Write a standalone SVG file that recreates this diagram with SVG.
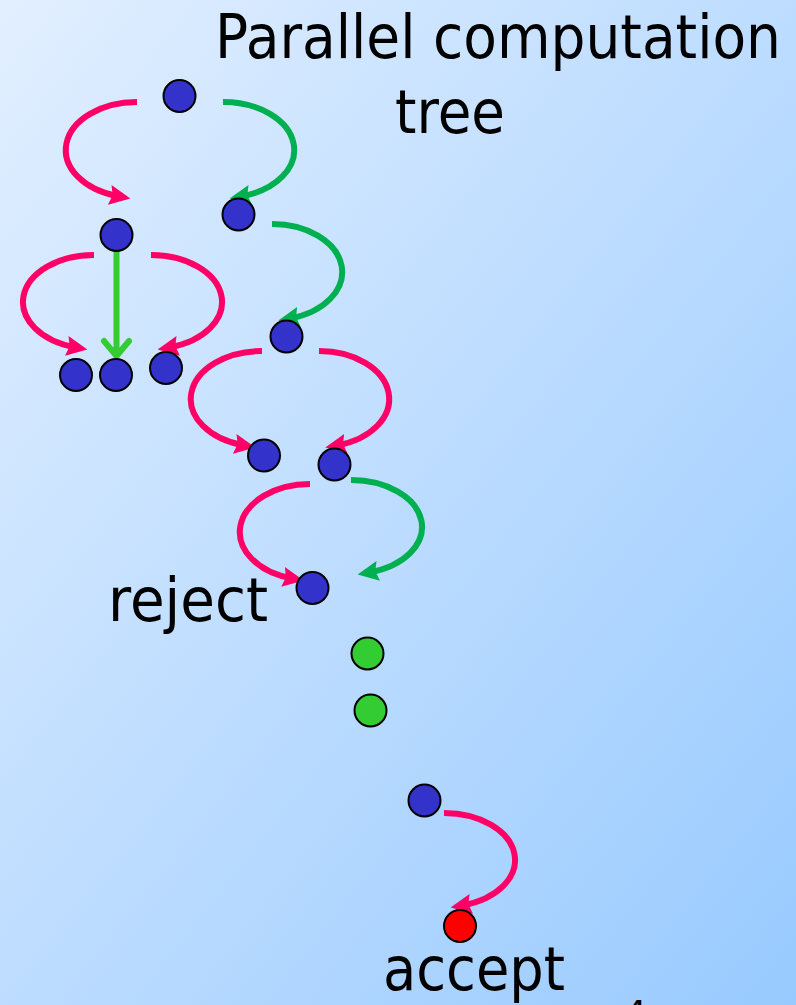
<svg xmlns="http://www.w3.org/2000/svg" width="796" height="1005" viewBox="0 0 796 1005">
<defs>
<linearGradient id="bg" x1="0" y1="0" x2="1" y2="1">
<stop offset="0" stop-color="#e2efff"/>
<stop offset="1" stop-color="#98caff"/>
</linearGradient>
<marker id="ahR" markerUnits="userSpaceOnUse" viewBox="0 0 21 20" markerWidth="21" markerHeight="20" refX="9" refY="10" orient="auto"><path d="M0,0 L21,10 L0,20 L3,10 z" fill="#ff0066"/></marker>
<marker id="ahG" markerUnits="userSpaceOnUse" viewBox="0 0 21 20" markerWidth="21" markerHeight="20" refX="9" refY="10" orient="auto"><path d="M0,0 L21,10 L0,20 L3,10 z" fill="#00b050"/></marker>
</defs>
<style>
.lbl{font-family:"DejaVu Sans","Liberation Sans",sans-serif;font-size:60px;fill:#000}
.n{fill:#3333cc;stroke:#000;stroke-width:2}
.ng{fill:#33cc33;stroke:#000;stroke-width:2}
.nr{fill:#ff0000;stroke:#000;stroke-width:2}
.r{fill:none;stroke:#ff0066;stroke-width:6;marker-end:url(#ahR)}
.g{fill:none;stroke:#00b050;stroke-width:6;marker-end:url(#ahG)}
.lg{fill:none;stroke:#33cc33;stroke-width:6;stroke-linecap:round;stroke-linejoin:round}
</style>
<rect width="796" height="1005" fill="url(#bg)"/>
<g id="title">
<text class="lbl" x="215" y="58" textLength="566" lengthAdjust="spacingAndGlyphs">Parallel computation</text>
<text class="lbl" x="395" y="133" textLength="110" lengthAdjust="spacingAndGlyphs">tree</text>
</g>
<g id="connectors">
<path class="r" d="M137,102 A71,48 0 0 0 118.6,196.4"/>
<path class="g" d="M223,102 A71,48 0 0 1 241.4,196.4"/>
<path class="g" d="M272,224 A70,48 0 0 1 290.1,318.4"/>
<path class="r" d="M94,255 A71,47 0 0 0 75.6,347.4"/>
<path class="r" d="M151,255 A71,47 0 0 1 169.4,347.4"/>
<path class="lg" d="M116.5,251 L116.5,354 M104,341 L116.5,356 L129,341"/>
<path class="r" d="M262,351 A71,48 0 0 0 243.6,445.4"/>
<path class="r" d="M319,351 A70,48 0 0 1 337.1,445.4"/>
<path class="r" d="M310,484 A70,48 0 0 0 291.9,578.4"/>
<path class="g" d="M351,480 A71,47 0 0 1 369.4,572.4"/>
<path class="r" d="M444,813 A71,47 0 0 1 462.4,905.4"/>
</g>
<g id="n1"><circle class="n" cx="179.5" cy="96" r="16"/></g>
<g id="n2"><circle class="n" cx="116.5" cy="235" r="16"/></g>
<g id="n3"><circle class="n" cx="238.5" cy="214.5" r="16"/></g>
<g id="n4"><circle class="n" cx="76" cy="375" r="16"/></g>
<g id="n5"><circle class="n" cx="116" cy="375" r="16"/></g>
<g id="n6"><circle class="n" cx="166" cy="368" r="16"/></g>
<g id="n7"><circle class="n" cx="286.5" cy="336.5" r="16"/></g>
<g id="n8"><circle class="n" cx="264" cy="455.5" r="16"/></g>
<g id="n9"><circle class="n" cx="334.5" cy="464.5" r="16"/></g>
<g id="n10"><circle class="n" cx="312.5" cy="588" r="16"/></g>
<g id="n11"><circle class="ng" cx="367.5" cy="653.5" r="16"/></g>
<g id="n12"><circle class="ng" cx="370.5" cy="710.5" r="16"/></g>
<g id="n13"><circle class="n" cx="424.5" cy="800.5" r="16"/></g>
<g id="n14"><circle class="nr" cx="460" cy="926" r="16"/></g>
<g id="labels">
<text class="lbl" x="108" y="621" textLength="160" lengthAdjust="spacingAndGlyphs">reject</text>
<text class="lbl" x="383" y="990" textLength="182" lengthAdjust="spacingAndGlyphs">accept</text>
<text class="lbl" x="624" y="1026" style="font-size:36px">4</text>
</g>
</svg>
